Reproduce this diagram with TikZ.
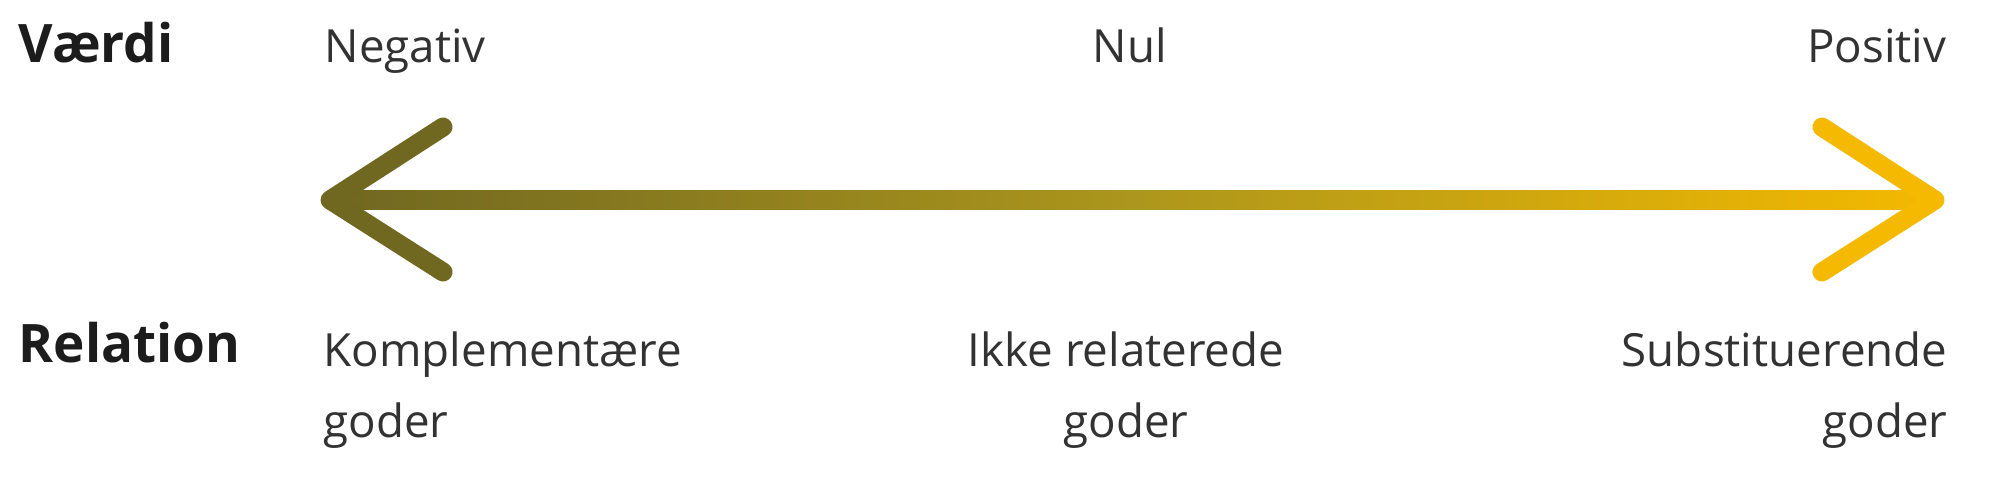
\documentclass[tikz,border=0pt]{standalone}
\usepackage{fontspec}
\setmainfont{Open Sans}
\definecolor{cL}{RGB}{112,103,33}
\definecolor{cM}{RGB}{172,150,28}
\definecolor{cR}{RGB}{244,185,0}
\definecolor{txt}{RGB}{50,50,50}
\definecolor{hd}{RGB}{28,28,28}
\begin{document}
\begin{tikzpicture}[x=0.1mm,y=-0.1mm,
  lab/.style={font=\fontsize{13}{20.2}\selectfont, text=txt, inner sep=0pt},
  hdr/.style={font=\fontsize{15.1}{20}\selectfont\bfseries, text=hd, inner sep=0pt},
  armstyle/.style={line width=1.9mm, line cap=round, line join=round}]
\useasboundingbox (0,0) rectangle (2000,495);
\coordinate (L) at (330,200);
\coordinate (R) at (1935,200);
\coordinate (L1) at (443,127);
\coordinate (L2) at (443,272);
\coordinate (R1) at (1822,127);
\coordinate (R2) at (1822,272);
\shade[left color=cL, right color=cR, middle color=cM] ([yshift=0.95mm]L) rectangle ([yshift=-0.95mm]R);
\draw[armstyle, cL] (L1) -- (L) -- (L2);
\draw[armstyle, cR] (R1) -- (R) -- (R2);
\node[hdr, anchor=base west] (vaerdi) at (18,62) {Værdi};
\node[lab, anchor=base west] (neg) at (324,62) {Negativ};
\node[lab, anchor=base] (nul) at (1130,62) {Nul};
\node[lab, anchor=base east] (pos) at (1947,62) {Positiv};
\node[hdr, anchor=base west] (rel) at (18,362) {Relation};
\node[lab, anchor=base west, align=left] (komp) at (323,437) {Komplementære\\goder};
\node[lab, anchor=base, align=center] (ikke) at (1126,437) {Ikke relaterede\\goder};
\node[lab, anchor=base east, align=right] (subs) at (1948,437) {Substituerende\\goder};
\end{tikzpicture}
\end{document}
